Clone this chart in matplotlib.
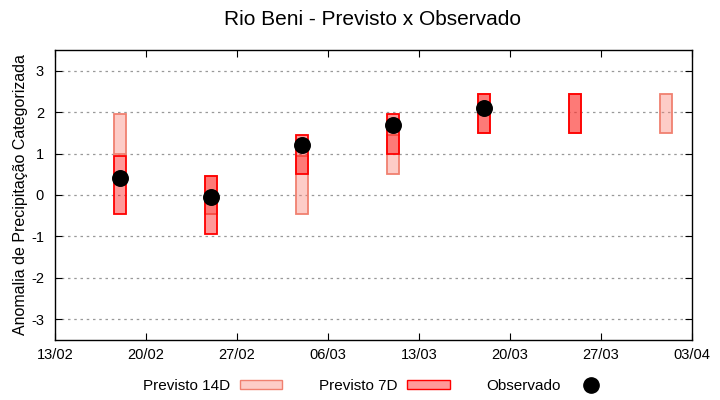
import numpy as np
import pandas as pd
import matplotlib
matplotlib.use("Agg")
import matplotlib.pyplot as plt
import matplotlib.dates as mdates
from matplotlib.patches import Patch
from matplotlib.lines import Line2D

plt.rcParams['font.family'] = ['Liberation Sans', 'DejaVu Sans']
plt.rcParams['axes.unicode_minus'] = False

# forecast dates
dates = pd.to_datetime(["2019-02-18", "2019-02-25", "2019-03-04", "2019-03-11",
                        "2019-03-18", "2019-03-25", "2019-04-01"])

# 14-day forecast range (low, high)
p14_low = [1.0, -0.45, -0.45, 0.5, 1.5, 1.5, 1.5]
p14_high = [1.95, 0.45, 0.95, 1.45, 2.45, 2.45, 2.45]

# 7-day forecast range, None where missing
p7_low = [-0.45, -0.95, 0.5, 1.0, 1.5, 1.5, None]
p7_high = [0.95, 0.45, 1.45, 1.95, 2.45, 2.45, None]

# observed
obs = [0.4, -0.05, 1.2, 1.7, 2.1, None, None]

fig = plt.figure(figsize=(7.2, 4), dpi=100)
ax = fig.add_axes([55/720, 1-340/400, 637/720, 290/400])

width = 0.85
c14_face = (0.98, 0.50, 0.45, 0.4)
c14_edge = "#f08070"
c7_face = (1.0, 0.0, 0.0, 0.4)
c7_edge = "#ff0000"

for d, lo, hi in zip(dates, p14_low, p14_high):
    if lo is None:
        continue
    ax.bar(d, hi - lo, bottom=lo, width=width, color=c14_face,
           edgecolor=c14_edge, linewidth=1.3, zorder=2)

for d, lo, hi in zip(dates, p7_low, p7_high):
    if lo is None:
        continue
    ax.bar(d, hi - lo, bottom=lo, width=width, color=c7_face,
           edgecolor=c7_edge, linewidth=1.3, zorder=3)

od = [d for d, v in zip(dates, obs) if v is not None]
ov = [v for v in obs if v is not None]
ax.scatter(od, ov, s=125, color="black", zorder=4)

ax.set_xlim(pd.Timestamp("2019-02-13"), pd.Timestamp("2019-04-03"))
ax.set_ylim(-3.5, 3.5)
ax.set_xticks(pd.date_range("2019-02-13", "2019-04-03", freq="7D"))
ax.xaxis.set_major_formatter(mdates.DateFormatter("%d/%m"))
ax.set_yticks([-3, -2, -1, 0, 1, 2, 3])
ax.tick_params(direction="in", top=True, right=True, length=5, labelsize=10.5,
               pad=6)
ax.tick_params(axis="y", pad=8)
ax.grid(axis="y", linestyle=(0, (2, 3)), color="#999999", linewidth=0.9)
ax.set_axisbelow(True)
for s in ax.spines.values():
    s.set_linewidth(1.0)

ax.set_ylabel("Anomalia de Precipitação Categorizada", fontsize=11.5, labelpad=2)
fig.suptitle("Rio Beni - Previsto x Observado", fontsize=15, y=0.975, x=0.518)

handles = [Patch(facecolor=c14_face, edgecolor=c14_edge),
           Patch(facecolor=c7_face, edgecolor=c7_edge),
           Line2D([], [], marker="o", color="black", linestyle="none",
                  markersize=11)]
fig.legend(handles, ["Previsto 14D", "Previsto 7D", "Observado"], ncol=3,
           loc="center", bbox_to_anchor=(0.525, 0.035), frameon=False,
           markerfirst=False, fontsize=11, handlelength=2.8, handleheight=0.45,
           columnspacing=2.4, handletextpad=0.6)

fig.savefig("out.png", dpi=100)
